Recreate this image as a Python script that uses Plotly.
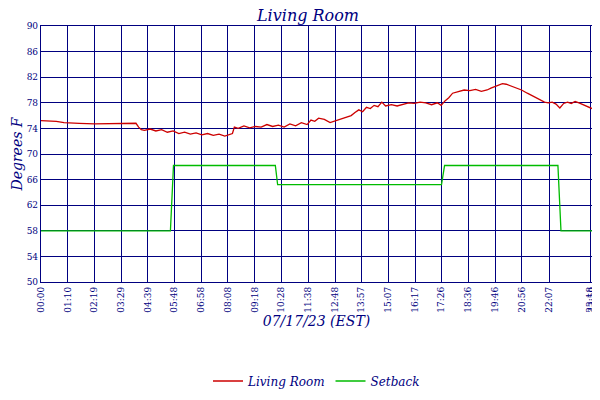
import plotly.graph_objects as go

NAVY = "#000080"
FONT = "DejaVu Serif"

# minutes since midnight
room_min = [0, 20, 40, 60, 80, 100, 140, 180, 220, 248, 255, 262, 270, 285, 300, 315, 330, 345,
            360, 375, 390, 405, 420, 435, 450, 465, 480, 490, 500, 505, 515, 530, 545, 560, 575,
            590, 605, 620, 635, 650, 665, 680, 695, 705, 715, 725, 740, 755, 770, 785, 800, 810,
            820, 830, 840, 850, 860, 870, 880, 890, 900, 915, 930, 945, 960, 975, 990, 1005,
            1020, 1035, 1045, 1055, 1065, 1075, 1090, 1105, 1120, 1135, 1150, 1165, 1175, 1185,
            1195, 1205, 1215, 1225, 1240, 1255, 1270, 1285, 1300, 1315, 1325, 1335, 1345, 1355,
            1365, 1375, 1385, 1395, 1405, 1415, 1425, 1432, 1439]
room_temp = [75.2, 75.2, 75.1, 74.9, 74.9, 74.8, 74.7, 74.7, 74.7, 74.8, 74.2, 73.8, 73.7,
             73.9, 73.6, 73.8, 73.4, 73.6, 73.2, 73.4, 73.1, 73.3, 73.0, 73.2, 72.9, 73.1, 72.8,
             73.0, 73.2, 74.2, 74.0, 74.4, 74.1, 74.3, 74.2, 74.6, 74.3, 74.5, 74.2, 74.7, 74.4,
             74.9, 74.6, 75.3, 75.1, 75.6, 75.4, 74.9, 75.2, 75.5, 75.8, 76.0, 76.5, 76.9, 76.6,
             77.3, 77.1, 77.6, 77.4, 78.1, 77.5, 77.7, 77.5, 77.8, 78.0, 77.9, 78.1, 78.0, 77.7,
             78.0, 77.6, 78.3, 78.8, 79.5, 79.7, 80.0, 79.9, 80.1, 79.8, 80.0, 80.3, 80.5, 80.8,
             81.0, 80.9, 80.7, 80.4, 80.0, 79.5, 79.0, 78.5, 78.1, 78.0, 78.1, 77.8, 77.2, 77.9,
             78.1, 77.9, 78.2, 78.0, 77.7, 77.5, 77.3, 77.1]

setback_min = [0, 338, 346, 612, 618, 1046, 1054, 1350, 1358, 1439]
setback_temp = [58, 58, 68.2, 68.2, 65.2, 65.2, 68.2, 68.2, 58, 58]

tick_min = [0, 70, 139, 209, 279, 348, 418, 488, 558, 628, 698, 768, 837, 907, 977, 1046,
            1116, 1186, 1256, 1327, 1434, 1439]
tick_lbl = ["00:00", "01:10", "02:19", "03:29", "04:39", "05:48", "06:58", "08:08", "09:18",
            "10:28", "11:38", "12:48", "13:57", "15:07", "16:17", "17:26", "18:36", "19:46",
            "20:56", "22:07", "23:18", "23:59"]
y_ticks = [50, 54, 58, 62, 66, 70, 74, 78, 82, 86, 90]

fig = go.Figure()
fig.add_trace(go.Scatter(x=room_min, y=room_temp, name="<i>Living Room</i>", mode="lines",
                         line=dict(color="#cc0000", width=1.3)))
fig.add_trace(go.Scatter(x=setback_min, y=setback_temp, name="<i>Setback</i>", mode="lines",
                         line=dict(color="#00bb00", width=1.3)))
# invisible trace to drive the right axis
fig.add_trace(go.Scatter(x=[0], y=[50], yaxis="y2", showlegend=False, hoverinfo="skip",
                         mode="markers", marker=dict(opacity=0)))

axfont = dict(family=FONT, size=9, color=NAVY)
fig.update_layout(
    width=600, height=400,
    paper_bgcolor="white", plot_bgcolor="white",
    margin=dict(l=33, r=16, t=18, b=67),
    title=dict(text="<i>Living Room</i>", x=0.5, y=0.995, xanchor="center", yanchor="top",
               font=dict(family=FONT, size=16, color=NAVY)),
    xaxis=dict(range=[0, 1439], tickvals=tick_min, ticktext=tick_lbl, tickangle=-90,
               tickfont=axfont, showgrid=True, gridcolor=NAVY, gridwidth=1.2, automargin=False,
               showline=True, linecolor=NAVY, linewidth=1.2, mirror=True, zeroline=False,
               title=dict(text="<i>07/17/23 (EST)</i>", font=dict(family=FONT, size=14, color=NAVY),
                          standoff=4)),
    yaxis=dict(range=[50, 90], tickvals=y_ticks, tickfont=axfont, showgrid=True, gridcolor=NAVY,
               gridwidth=1.2, automargin=False, ticklabelstandoff=0,
               showline=True, linecolor=NAVY, linewidth=1.2, mirror=True, zeroline=False,
               title=dict(text="<i>Degrees F</i>", font=dict(family=FONT, size=14, color=NAVY),
                          standoff=0)),
    yaxis2=dict(range=[50, 90], tickvals=y_ticks, tickfont=axfont, overlaying="y", side="right",
                showgrid=False, zeroline=False, automargin=False),
    legend=dict(orientation="h", x=0.5, xanchor="center", y=-0.33, yanchor="top",
                font=dict(family=FONT, size=12, color=NAVY)),
)
fig.update_layout(font=dict(family=FONT))
fig.write_html("out.html")
